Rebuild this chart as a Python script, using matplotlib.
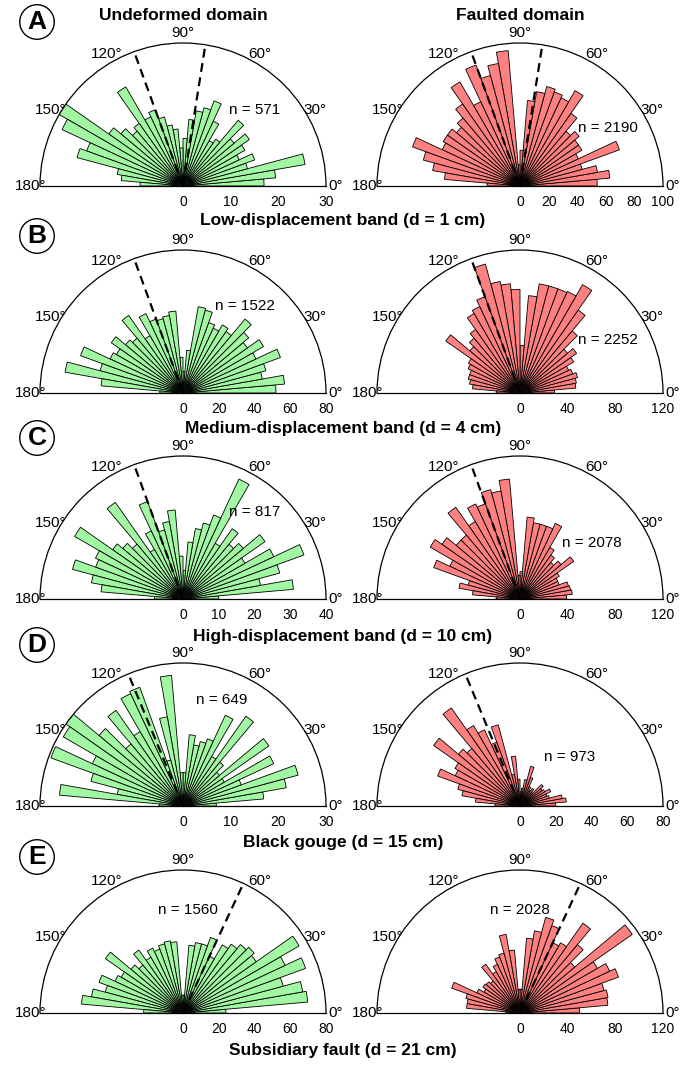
import matplotlib.pyplot as plt
import numpy as np

plt.rcParams['font.family'] = ['Liberation Sans', 'DejaVu Sans']

W, H = 684, 1066
R_PX = 143  # radius of every rose diagram, pixels

# 5 degree bins from 0 to 180 degrees
bin_start = np.arange(0, 180, 5)

# bar lengths, 0-5 deg first, 175-180 deg last
a_undeformed = [17, 19.5, 26, 14, 16, 13, 15, 17, 14, 18, 12, 11, 15, 19, 17, 16, 14, 10,
                8, 12, 13, 15, 17, 16, 24, 16, 15, 17, 19, 30, 28, 21.5, 23, 14, 13, 9]
a_faulted = [54, 63, 55, 45, 74, 45, 50, 50, 54, 50, 62, 77, 68, 70, 72, 67, 60, 25,
             15, 95, 87, 80, 90, 65, 84, 70, 62, 58, 62, 62, 60, 80, 70, 62, 53, 23]
b_undeformed = [52, 57, 45, 48, 58, 45, 52, 44, 48, 54, 42, 44, 40, 42, 48, 49, 24, 12,
                20, 46, 44, 43, 44, 49, 37, 53, 40, 42, 49, 43, 45, 61, 48, 67, 46, 13]
b_faulted = [29, 47, 48, 50, 47, 45, 52, 58, 52, 68, 85, 105, 94, 93, 93, 93, 82, 40,
             87, 92, 95, 112, 86, 80, 77, 65, 60, 55, 76, 50, 48, 45, 45, 43, 40, 20]
c_undeformed = [10, 31, 22, 28, 36, 28, 20, 28, 22, 20, 24, 18, 37, 25, 22, 20, 16, 8,
                12, 25, 22, 20, 29, 21, 16, 33, 20, 22, 24, 35, 27, 26, 32, 26, 23, 8]
c_faulted = [39, 44, 43, 42, 35, 35, 38, 55, 45, 40, 45, 50, 70, 65, 65, 65, 69, 23,
             20, 101, 92, 95, 85, 88, 75, 94, 70, 70, 80, 87, 65, 77, 45, 52, 40, 20]
d_undeformed = [7, 17, 22, 25, 13, 21, 10, 22, 10, 12, 23, 12, 21, 15, 14, 13, 15, 7,
                7, 27.5, 19, 10, 26.5, 26, 18, 24.5, 17, 23, 30, 29, 21, 29.5, 20, 14, 26, 5]
d_faulted = [20, 26, 24, 17, 16, 19, 16, 15, 17, 10, 12, 10, 12, 17, 23, 15, 10, 8,
             15, 28, 18, 47, 38, 47, 52, 67, 42, 45, 59, 42, 40, 49, 36, 33, 25, 14]
e_undeformed = [24, 70, 68, 58, 73, 63, 75, 50, 52, 50, 47, 44, 35, 45, 40, 40, 38, 10,
                10, 40, 41, 40, 38, 40, 36, 43, 35, 38, 53, 40, 42, 50, 45, 52, 57, 22]
e_faulted = [50, 74, 75, 73, 88, 83, 75, 115, 60, 75, 92, 68, 65, 78, 83, 70, 63, 20,
             20, 53, 67, 52, 50, 45, 40, 50, 35, 37, 38, 35, 40, 61, 47, 45, 45, 12]

undeformed = [a_undeformed, b_undeformed, c_undeformed, d_undeformed, e_undeformed]
faulted = [a_faulted, b_faulted, c_faulted, d_faulted, e_faulted]

rmax_undeformed = [30, 80, 40, 30, 80]
rmax_faulted = [100, 120, 120, 80, 120]
rstep_undeformed = [10, 20, 10, 10, 20]
rstep_faulted = [20, 40, 40, 20, 40]

n_undeformed = [571, 1522, 817, 649, 1560]
n_faulted = [2190, 2252, 2078, 973, 2028]

# mean orientation lines (degrees)
dashed = [[110, 81], [110], [110], [112.5], [65]]

letters = ['A', 'B', 'C', 'D', 'E']
row_titles = ['Low-displacement band (d = 1 cm)', 'Medium-displacement band (d = 4 cm)',
              'High-displacement band (d = 10 cm)', 'Black gouge (d = 15 cm)',
              'Subsidiary fault (d = 21 cm)']

# layout, pixels
col_x = [183, 520]
row_y = [186, 393, 599, 806, 1013]
title_y = [220, 429, 636, 843, 1051]
letter_y = [22, 236, 438, 645, 857]
n_pos_undeformed = [(255, 110), (245, 306), (255, 512), (222, 700), (188, 910)]
n_pos_faulted = [(608, 128), (608, 340), (592, 543), (570, 757), (520, 910)]

GREEN = '#A2F7A2'
RED = '#FF8080'

fig = plt.figure(figsize=(W / 100, H / 100), dpi=100)


def fx(x):
    return x / W


def fy(y):
    return 1 - y / H


def rose(cx, cy, values, rmax, rstep, color, lines):
    # square box; the half disc is fitted to its width and centred vertically
    ax = fig.add_axes([fx(cx - R_PX), fy(cy + R_PX / 2), 2 * R_PX / W, 2 * R_PX / H],
                      projection='polar')
    ax.set_thetamin(0)
    ax.set_thetamax(180)
    ax.bar(np.radians(bin_start + 2.5), values, width=np.radians(5), bottom=0,
           color=color, edgecolor='black', linewidth=0.6)
    for ang in lines:
        ax.plot([np.radians(ang)] * 2, [0, rmax], color='black', lw=1.6,
                dashes=(4, 2.5), clip_on=False)
    ax.set_ylim(0, rmax)
    ax.grid(False)
    ax.set_xticks(np.radians(np.arange(0, 181, 30)))
    ax.set_xticklabels([f'{d}°' for d in range(0, 181, 30)], fontsize=11)
    ax.set_xticks(np.radians(np.arange(0, 181, 10)), minor=True)
    ax.tick_params(axis='x', which='both', direction='in', length=5, width=0.8, pad=0)
    ax.set_yticks(np.arange(0, rmax + 1, rstep))
    ax.set_yticklabels([str(v) for v in np.arange(0, rmax + 1, rstep)], fontsize=11)
    ax.set_yticks(np.arange(0, rmax + 1, rstep / 2), minor=True)
    ax.tick_params(axis='y', which='both', direction='out', length=4, width=0.8, pad=2.5)
    for sp in ax.spines.values():
        sp.set_linewidth(0.9)
    return ax


for i in range(5):
    rose(col_x[0], row_y[i], undeformed[i], rmax_undeformed[i], rstep_undeformed[i], GREEN, dashed[i])
    rose(col_x[1], row_y[i], faulted[i], rmax_faulted[i], rstep_faulted[i], RED, dashed[i])
    x, y = n_pos_undeformed[i]
    fig.text(fx(x), fy(y), f'n = {n_undeformed[i]}', fontsize=11, ha='center', va='center')
    x, y = n_pos_faulted[i]
    fig.text(fx(x), fy(y), f'n = {n_faulted[i]}', fontsize=11, ha='center', va='center')
    fig.text(fx(343), fy(title_y[i]), row_titles[i], fontsize=12.5, fontweight='bold',
             ha='center', va='center')
    fig.text(fx(37), fy(letter_y[i]), letters[i], fontsize=19, fontweight='bold',
             ha='center', va='center',
             bbox=dict(boxstyle='circle,pad=0.2', fc='white', ec='black', lw=1))

fig.text(fx(183), fy(15), 'Undeformed domain', fontsize=12.5, fontweight='bold', ha='center', va='center')
fig.text(fx(520), fy(15), 'Faulted domain', fontsize=12.5, fontweight='bold', ha='center', va='center')

fig.savefig('out.png', dpi=100)
